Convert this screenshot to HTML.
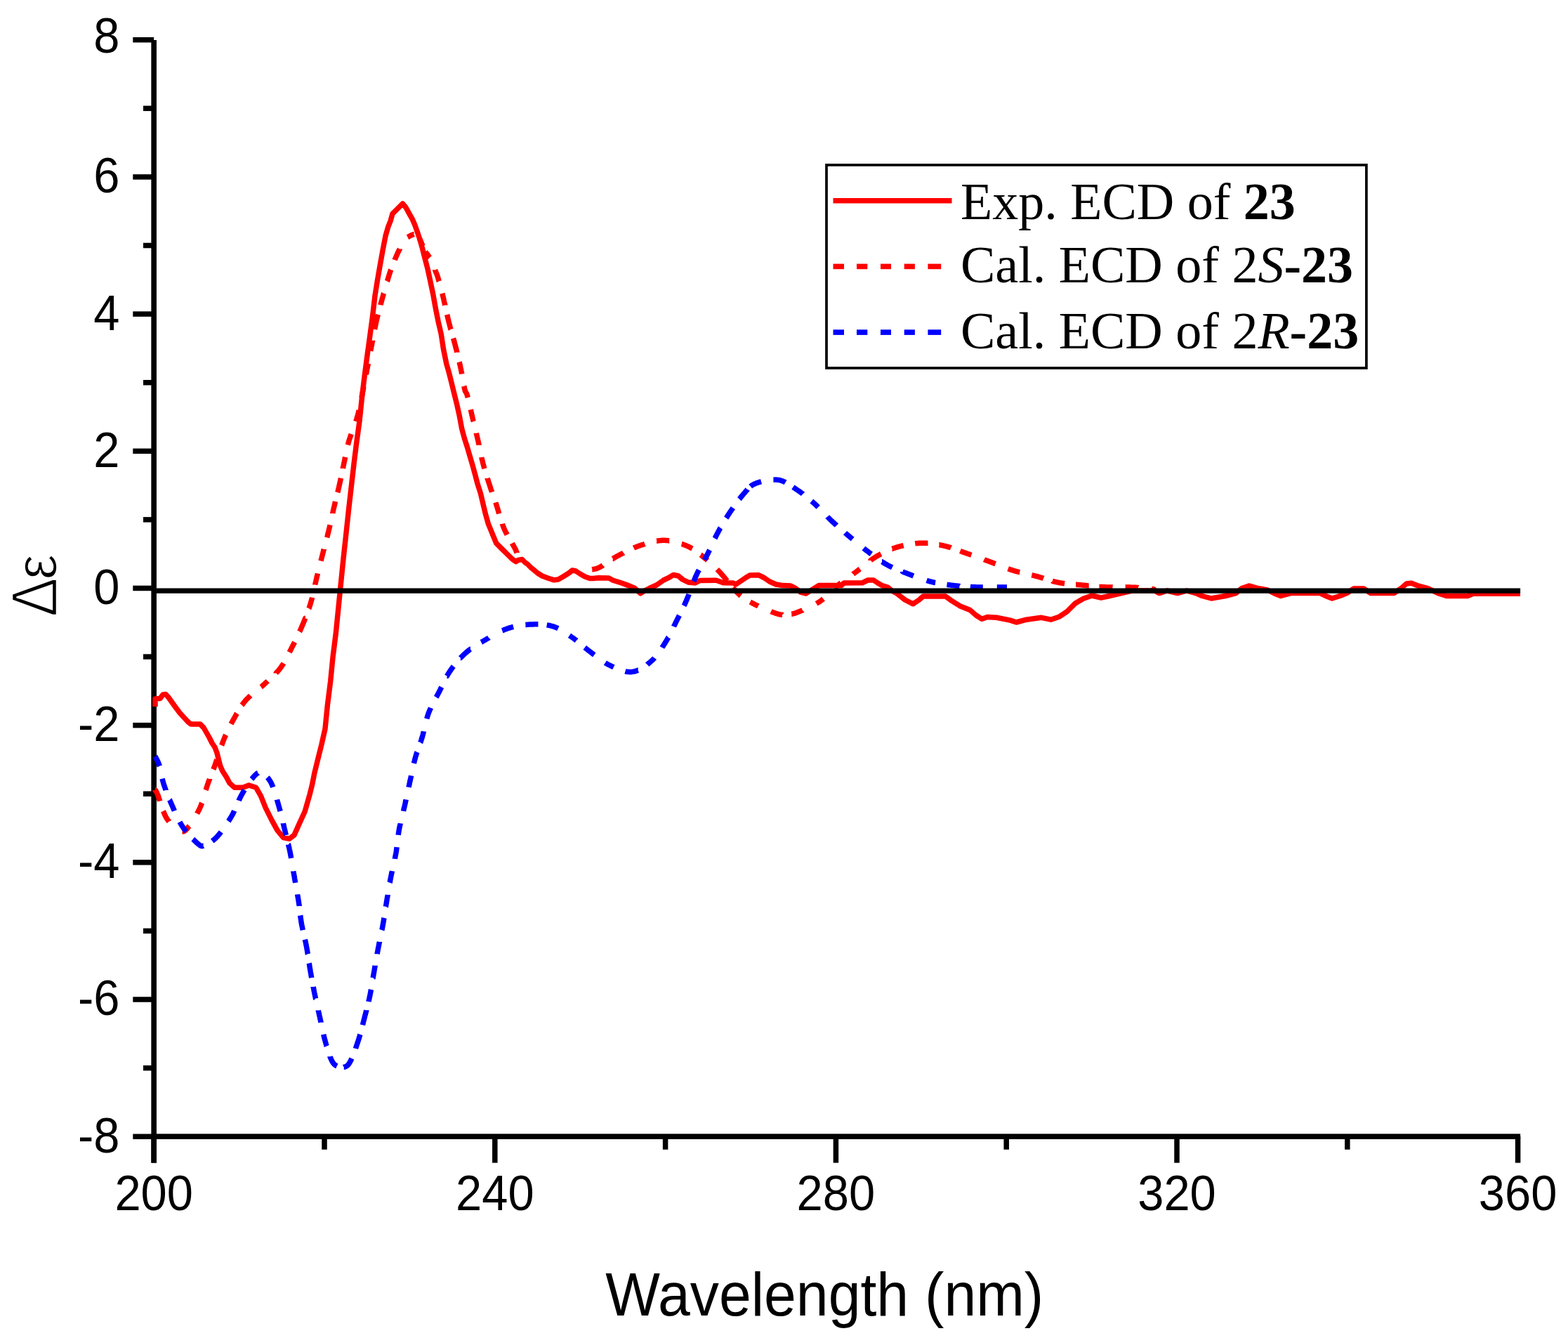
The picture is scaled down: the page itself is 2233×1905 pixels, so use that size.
<!DOCTYPE html>
<html><head><meta charset="utf-8"><title>ECD spectra</title>
<style>
html,body{margin:0;padding:0;background:#fff;}
body{width:2233px;height:1905px;overflow:hidden;}
svg{display:block;}
</style></head>
<body>
<svg width="2233" height="1905" viewBox="0 0 2233 1905">
<rect x="0" y="0" width="2233" height="1905" fill="#fff"/>
<rect x="215.35" y="57" width="7.6" height="1598.6" fill="#000"/>
<rect x="215.35" y="1614.30" width="1949.8" height="7.6" fill="#000"/>
<rect x="189.3" y="1614.45" width="29.85" height="7.5" fill="#000"/>
<rect x="204.0" y="1516.86" width="15.15" height="7.5" fill="#000"/>
<rect x="189.3" y="1419.27" width="29.85" height="7.5" fill="#000"/>
<rect x="204.0" y="1321.68" width="15.15" height="7.5" fill="#000"/>
<rect x="189.3" y="1224.09" width="29.85" height="7.5" fill="#000"/>
<rect x="204.0" y="1126.50" width="15.15" height="7.5" fill="#000"/>
<rect x="189.3" y="1028.91" width="29.85" height="7.5" fill="#000"/>
<rect x="204.0" y="931.32" width="15.15" height="7.5" fill="#000"/>
<rect x="189.3" y="833.73" width="29.85" height="7.5" fill="#000"/>
<rect x="204.0" y="736.13" width="15.15" height="7.5" fill="#000"/>
<rect x="189.3" y="638.54" width="29.85" height="7.5" fill="#000"/>
<rect x="204.0" y="540.95" width="15.15" height="7.5" fill="#000"/>
<rect x="189.3" y="443.36" width="29.85" height="7.5" fill="#000"/>
<rect x="204.0" y="345.77" width="15.15" height="7.5" fill="#000"/>
<rect x="189.3" y="248.18" width="29.85" height="7.5" fill="#000"/>
<rect x="204.0" y="150.59" width="15.15" height="7.5" fill="#000"/>
<rect x="189.3" y="53.00" width="29.85" height="7.5" fill="#000"/>
<rect x="215.45" y="1618.10" width="7.5" height="37.50" fill="#000"/>
<rect x="458.25" y="1618.10" width="7.5" height="18.60" fill="#000"/>
<rect x="701.05" y="1618.10" width="7.5" height="37.50" fill="#000"/>
<rect x="943.85" y="1618.10" width="7.5" height="18.60" fill="#000"/>
<rect x="1186.65" y="1618.10" width="7.5" height="37.50" fill="#000"/>
<rect x="1429.45" y="1618.10" width="7.5" height="18.60" fill="#000"/>
<rect x="1672.25" y="1618.10" width="7.5" height="37.50" fill="#000"/>
<rect x="1915.05" y="1618.10" width="7.5" height="18.60" fill="#000"/>
<rect x="2157.85" y="1618.10" width="7.5" height="37.50" fill="#000"/>
<text transform="translate(170.5,1640.6) scale(0.95,1)" font-family="Liberation Sans, Arial, sans-serif" font-size="70.4" text-anchor="end">-8</text>
<text transform="translate(170.5,1445.4) scale(0.95,1)" font-family="Liberation Sans, Arial, sans-serif" font-size="70.4" text-anchor="end">-6</text>
<text transform="translate(170.5,1250.2) scale(0.95,1)" font-family="Liberation Sans, Arial, sans-serif" font-size="70.4" text-anchor="end">-4</text>
<text transform="translate(170.5,1055.1) scale(0.95,1)" font-family="Liberation Sans, Arial, sans-serif" font-size="70.4" text-anchor="end">-2</text>
<text transform="translate(170.5,859.9) scale(0.95,1)" font-family="Liberation Sans, Arial, sans-serif" font-size="70.4" text-anchor="end">0</text>
<text transform="translate(170.5,664.7) scale(0.95,1)" font-family="Liberation Sans, Arial, sans-serif" font-size="70.4" text-anchor="end">2</text>
<text transform="translate(170.5,469.5) scale(0.95,1)" font-family="Liberation Sans, Arial, sans-serif" font-size="70.4" text-anchor="end">4</text>
<text transform="translate(170.5,274.3) scale(0.95,1)" font-family="Liberation Sans, Arial, sans-serif" font-size="70.4" text-anchor="end">6</text>
<text transform="translate(170.5,75.3) scale(0.95,1)" font-family="Liberation Sans, Arial, sans-serif" font-size="70.4" text-anchor="end">8</text>
<text transform="translate(219.2,1723.2) scale(0.95,1)" font-family="Liberation Sans, Arial, sans-serif" font-size="70.4" text-anchor="middle">200</text>
<text transform="translate(704.8,1723.2) scale(0.95,1)" font-family="Liberation Sans, Arial, sans-serif" font-size="70.4" text-anchor="middle">240</text>
<text transform="translate(1190.4,1723.2) scale(0.95,1)" font-family="Liberation Sans, Arial, sans-serif" font-size="70.4" text-anchor="middle">280</text>
<text transform="translate(1676.0,1723.2) scale(0.95,1)" font-family="Liberation Sans, Arial, sans-serif" font-size="70.4" text-anchor="middle">320</text>
<text transform="translate(2161.6,1723.2) scale(0.95,1)" font-family="Liberation Sans, Arial, sans-serif" font-size="70.4" text-anchor="middle">360</text>
<text transform="translate(1174.3,1872.9) scale(0.9446,1)" font-family="Liberation Sans, Arial, sans-serif" font-size="87.2" text-anchor="middle">Wavelength (nm)</text>
<text transform="translate(80.6,878.3) rotate(-90) scale(0.895,1)" font-family="Liberation Sans, Arial, sans-serif" font-size="93.5" stroke="#fff" stroke-width="2.4">Δ</text>
<text transform="translate(80.2,825.3) rotate(-90) scale(0.98,1)" font-family="Liberation Sans, Arial, sans-serif" font-size="83" stroke="#fff" stroke-width="1.6">ε</text>
<g fill="none" stroke-width="7.5" stroke-linejoin="round" stroke-linecap="butt">
<path d="M221.0,1006.0 L221.0,995.0 L228.0,994.5 L232.0,989.0 L236.0,988.5 L240.0,993.0 L245.0,1000.0 L250.0,1007.0 L256.0,1015.0 L262.0,1021.5 L268.0,1028.0 L272.0,1031.0 L285.0,1031.0 L290.0,1036.0 L294.0,1043.0 L298.0,1050.0 L302.0,1058.0 L306.0,1064.0 L309.0,1072.0 L311.5,1082.0 L313.5,1090.0 L317.0,1098.0 L322.2,1106.0 L327.0,1115.0 L334.0,1121.3 L346.0,1121.3 L354.4,1118.0 L364.6,1121.3 L371.4,1133.1 L378.2,1150.1 L386.7,1167.1 L395.1,1182.4 L403.6,1192.5 L412.1,1194.2 L418.9,1189.1 L425.7,1173.9 L434.2,1155.2 L441.0,1131.5 L444.4,1117.9 L447.8,1100.9 L452.8,1080.5 L457.9,1060.2 L463.0,1037.6 L466.4,1003.6 L470.7,969.7 L474.0,935.8 L478.3,901.8 L481.7,867.9 L485.1,833.9 L489.1,794.5 L493.0,758.9 L496.8,723.3 L500.7,689.3 L504.4,657.1 L507.8,630.0 L512.0,599.4 L515.5,565.5 L519.2,534.9 L523.0,506.0 L526.7,478.9 L530.6,450.0 L534.0,421.0 L537.6,398.5 L541.7,375.0 L545.3,355.1 L549.0,336.1 L552.6,323.4 L556.2,314.3 L558.9,304.4 L566.2,297.1 L573.4,290.0 L577.9,295.3 L582.9,304.4 L587.0,311.6 L590.6,319.8 L594.2,329.7 L597.8,340.6 L601.4,353.3 L605.1,367.7 L609.1,383.1 L612.8,400.3 L616.8,419.3 L620.5,439.9 L623.9,456.8 L628.2,475.5 L631.6,497.6 L635.8,518.0 L639.0,529.0 L643.0,544.9 L646.6,559.6 L650.3,574.3 L654.1,591.3 L657.7,610.5 L661.7,625.2 L665.4,636.5 L669.0,649.0 L673.0,662.5 L676.7,676.1 L680.3,689.7 L684.3,702.1 L691.4,731.8 L695.2,745.3 L699.0,754.7 L702.8,764.0 L706.7,773.3 L714.3,781.0 L722.0,788.6 L729.6,796.2 L734.7,799.6 L738.0,797.5 L743.6,796.5 L748.0,801.0 L751.6,803.5 L756.0,808.0 L759.3,810.7 L765.0,815.5 L772.0,820.0 L780.0,823.0 L789.0,825.8 L795.0,825.0 L802.0,821.0 L810.0,816.0 L815.0,812.0 L820.0,813.0 L826.0,817.0 L833.0,821.0 L840.0,823.5 L845.0,823.5 L852.0,822.7 L867.0,823.0 L873.0,826.2 L885.0,830.0 L895.0,833.6 L904.0,837.5 L912.0,844.8 L918.0,841.0 L925.0,837.5 L935.0,833.0 L945.0,826.0 L952.0,822.7 L959.0,818.5 L966.0,820.0 L972.0,825.0 L980.0,829.0 L990.0,830.0 L997.0,826.5 L1020.0,826.3 L1030.0,829.8 L1044.0,830.0 L1048.0,832.0 L1054.0,828.0 L1062.0,822.5 L1068.0,819.0 L1080.0,818.7 L1088.0,822.5 L1096.0,828.0 L1105.0,832.0 L1115.0,833.6 L1126.0,834.0 L1132.0,837.0 L1140.0,843.0 L1148.0,845.0 L1154.0,841.0 L1160.0,837.5 L1166.0,833.6 L1198.0,833.6 L1202.0,830.0 L1228.0,829.8 L1236.0,826.0 L1244.0,826.0 L1250.0,830.0 L1256.0,833.6 L1264.0,836.0 L1270.0,841.0 L1276.8,844.6 L1288.7,854.0 L1300.3,859.8 L1309.0,854.0 L1314.7,848.9 L1346.6,848.9 L1355.3,855.4 L1366.9,862.7 L1381.3,868.5 L1390.0,876.0 L1398.4,881.3 L1406.1,878.4 L1419.3,879.3 L1438.6,883.1 L1447.3,886.0 L1461.8,882.2 L1483.0,879.3 L1496.5,882.2 L1508.1,878.3 L1519.7,870.6 L1531.3,859.0 L1542.9,852.2 L1555.0,848.0 L1568.0,851.0 L1580.0,848.5 L1597.0,844.6 L1612.0,841.0 L1630.0,841.0 L1644.0,841.0 L1651.0,844.6 L1662.0,841.0 L1677.0,844.6 L1690.0,841.0 L1703.0,844.6 L1712.0,848.5 L1725.0,852.0 L1745.0,848.5 L1760.0,844.6 L1768.0,837.8 L1779.0,834.0 L1792.0,837.8 L1805.0,840.0 L1815.0,845.0 L1824.0,848.5 L1838.0,844.6 L1880.0,844.6 L1888.0,848.5 L1897.0,852.0 L1908.0,848.5 L1918.0,844.6 L1928.0,838.0 L1942.0,838.0 L1952.0,844.6 L1985.0,844.6 L1995.0,838.0 L2003.0,831.0 L2010.0,830.3 L2020.0,834.2 L2034.0,838.0 L2048.0,844.6 L2060.0,848.5 L2090.0,848.5 L2098.0,845.2 L2165.0,845.2" stroke="#ff0000"/>
<path d="M221.0,1125.0 L221.0,1125.1 L221.1,1125.1 L221.1,1125.2 L221.2,1125.3 L221.2,1125.3 L221.3,1125.4 L221.3,1125.4 L221.4,1125.5 L221.4,1125.6 L221.5,1125.6 L221.5,1125.7 L221.6,1125.7 L221.6,1125.8 L221.7,1125.8 L221.8,1125.9 L221.8,1126.0 L221.9,1126.1 L222.0,1126.1 L222.0,1126.2 L222.1,1126.3 L222.2,1126.5 L222.3,1126.6 L222.4,1126.7 L222.5,1126.9 L222.5,1127.0 L222.6,1127.2 L222.8,1127.4 L222.9,1127.6 L223.0,1127.8 L223.1,1128.0 L223.2,1128.3 L223.3,1128.6 L223.5,1128.9 L223.6,1129.2 L223.8,1129.5 L223.9,1129.8 L224.1,1130.2 L224.2,1130.6 L224.4,1131.1 L224.6,1131.5 L224.8,1132.0 L225.0,1132.5 L225.2,1133.1 L225.4,1133.6 L225.6,1134.3 L225.8,1134.9 L226.1,1135.6 L226.3,1136.3 L226.5,1137.0 L226.8,1137.8 L227.1,1138.6 L227.3,1139.4 L227.6,1140.2 L227.7,1140.6 M232.5,1154.7 L232.6,1154.9 L232.9,1155.7 L233.2,1156.5 L233.5,1157.3 L233.8,1158.0 L234.1,1158.8 L234.4,1159.5 L234.7,1160.1 L235.0,1160.8 L235.3,1161.4 L235.6,1162.0 L235.9,1162.6 L236.2,1163.1 L236.5,1163.6 L236.8,1164.2 L237.1,1164.7 L237.4,1165.2 L237.7,1165.6 L238.0,1166.1 L238.3,1166.6 L238.6,1167.0 L239.0,1167.5 L239.3,1167.9 L239.6,1168.3 L239.9,1168.7 L240.2,1169.1 L240.6,1169.5 L240.7,1169.7 M259.5,1184.0 L259.7,1184.0 L259.9,1184.0 L260.1,1184.0 L260.3,1184.0 L260.5,1184.0 L260.8,1183.9 L261.0,1183.9 L261.2,1183.8 L261.4,1183.8 L261.6,1183.7 L261.8,1183.7 L262.0,1183.6 L262.2,1183.5 L262.4,1183.4 L262.6,1183.3 L262.8,1183.2 L263.0,1183.1 L263.2,1182.9 L263.4,1182.8 L263.7,1182.6 L263.9,1182.4 L264.1,1182.2 L264.3,1182.0 L264.6,1181.8 L264.8,1181.6 L265.0,1181.3 L265.3,1181.1 L265.6,1180.8 L265.8,1180.5 L266.1,1180.2 L266.4,1179.9 L266.7,1179.5 L267.0,1179.2 L267.3,1178.8 L267.6,1178.4 L267.9,1178.0 L268.2,1177.6 L268.6,1177.1 L268.9,1176.6 L269.3,1176.1 L269.5,1175.9 M280.6,1158.4 L280.8,1158.0 L281.2,1157.2 L281.7,1156.4 L282.1,1155.6 L282.5,1154.8 L282.9,1154.0 L283.3,1153.2 L283.7,1152.4 L284.1,1151.7 L284.4,1150.9 L284.8,1150.1 L285.1,1149.3 L285.5,1148.5 L285.8,1147.7 L286.2,1146.9 L286.5,1146.1 L286.8,1145.2 L287.1,1144.4 L287.4,1143.5 L287.6,1143.1 M293.1,1124.9 L293.4,1124.1 L293.6,1123.3 L293.9,1122.5 L294.1,1121.6 L294.4,1120.8 L294.6,1120.0 L294.9,1119.2 L295.1,1118.4 L295.4,1117.7 L295.6,1116.9 L295.9,1116.2 L296.2,1115.5 L296.4,1114.8 L296.6,1114.1 L296.9,1113.5 L297.1,1112.8 L297.4,1112.2 L297.6,1111.6 L297.8,1111.0 L298.0,1110.4 L298.3,1109.8 L298.5,1109.3 L298.5,1109.1 M303.9,1095.5 L304.1,1095.0 L304.4,1094.3 L304.6,1093.5 L304.9,1092.8 L305.2,1092.0 L305.5,1091.2 L305.8,1090.4 L306.1,1089.5 L306.4,1088.6 L306.7,1087.8 L307.0,1086.8 L307.3,1085.9 L307.6,1085.0 L308.0,1084.0 L308.3,1083.0 L308.6,1082.0 L308.7,1081.8 M315.6,1061.2 L316.0,1060.3 L316.3,1059.3 L316.7,1058.3 L317.0,1057.3 L317.4,1056.4 L317.7,1055.5 L318.1,1054.6 L318.4,1053.7 L318.8,1052.8 L319.1,1051.9 L319.5,1051.1 L319.8,1050.3 L320.2,1049.4 L320.5,1048.6 L320.9,1047.8 L321.2,1047.0 L321.6,1046.2 M329.1,1030.7 L329.4,1030.1 L329.8,1029.4 L330.1,1028.7 L330.5,1028.0 L330.9,1027.3 L331.3,1026.6 L331.7,1025.9 L332.0,1025.2 L332.4,1024.5 L332.8,1023.8 L333.2,1023.1 L333.6,1022.4 L334.0,1021.7 L334.4,1021.0 L334.8,1020.3 L335.1,1019.6 L335.5,1018.9 L335.9,1018.3 L336.3,1017.6 L336.7,1016.9 L337.0,1016.2 L337.4,1015.6 M344.5,1004.0 L344.8,1003.7 L345.2,1003.0 L345.7,1002.4 L346.2,1001.8 L346.6,1001.2 L347.1,1000.5 L347.6,999.9 L348.1,999.3 L348.6,998.7 L349.1,998.0 L349.7,997.4 L350.2,996.8 L350.7,996.2 L351.3,995.6 L351.9,995.0 L352.5,994.4 L353.1,993.8 L353.7,993.2 L354.3,992.6 L354.9,992.0 L355.6,991.4 L356.2,990.9 L356.7,990.4 M371.7,978.2 L372.0,978.0 L372.7,977.4 L373.3,976.8 L374.0,976.3 L374.6,975.7 L375.3,975.1 L375.9,974.6 L376.5,974.0 L377.1,973.4 L377.7,972.9 L378.3,972.3 L379.0,971.7 L379.6,971.2 L380.2,970.6 L380.8,970.1 L381.2,969.7 M393.1,958.4 L393.1,958.3 L393.7,957.7 L394.2,957.2 L394.8,956.6 L395.3,956.0 L395.8,955.4 L396.4,954.8 L396.9,954.2 L397.4,953.5 L397.9,952.9 L398.4,952.3 L398.9,951.6 L399.4,951.0 L399.9,950.3 L400.4,949.7 L400.8,949.0 L401.3,948.4 L401.7,947.7 L402.2,947.0 L402.6,946.3 L403.1,945.7 L403.5,945.0 L403.9,944.3 L403.9,944.3 M412.2,928.7 L412.4,928.3 L412.8,927.5 L413.2,926.8 L413.6,926.0 L414.0,925.2 L414.3,924.5 L414.7,923.7 L415.1,923.0 L415.5,922.2 L415.9,921.4 L416.3,920.7 L416.7,919.9 L417.1,919.1 L417.5,918.3 L417.9,917.5 L418.3,916.8 L418.7,916.0 L419.1,915.2 L419.5,914.4 L419.6,914.2 M426.6,899.4 L426.9,898.9 L427.2,898.0 L427.6,897.2 L428.0,896.4 L428.3,895.6 L428.7,894.8 L429.1,894.0 L429.4,893.1 L429.8,892.3 L430.1,891.5 L430.5,890.7 L430.8,889.9 L431.1,889.1 L431.5,888.3 L431.8,887.5 L432.1,886.7 L432.5,885.9 L432.8,885.1 L433.1,884.3 L433.5,883.5 L433.8,882.7 L434.1,881.9 L434.4,881.1 L434.7,880.3 L434.8,880.3 M439.9,866.3 L440.1,866.0 L440.3,865.2 L440.6,864.4 L440.9,863.5 L441.1,862.7 L441.4,861.9 L441.7,861.1 L441.9,860.2 L442.2,859.4 L442.4,858.5 L442.7,857.7 L443.0,856.8 L443.2,856.0 L443.4,855.1 L443.7,854.3 L443.9,853.4 L444.2,852.5 L444.4,851.6 L444.6,850.7 L444.6,850.7 M448.7,832.6 L448.7,832.5 L448.9,831.6 L449.1,830.7 L449.3,829.8 L449.5,828.9 L449.7,828.1 L449.9,827.2 L450.1,826.3 L450.3,825.4 L450.5,824.6 L450.7,823.7 L450.9,822.8 L451.1,822.0 L451.3,821.2 L451.5,820.3 L451.7,819.5 L451.9,818.7 L452.1,817.9 L452.3,817.0 L452.4,816.5 M457.0,798.7 L457.1,798.3 L457.3,797.5 L457.5,796.7 L457.7,795.9 L457.9,795.1 L458.1,794.3 L458.3,793.5 L458.5,792.7 L458.7,791.9 L458.9,791.1 L459.1,790.3 L459.3,789.5 L459.5,788.7 L459.7,787.8 L460.0,787.0 L460.2,786.2 L460.4,785.3 L460.6,784.5 L460.8,783.7 L461.0,782.8 L461.3,782.0 L461.3,781.9 M465.7,765.3 L465.8,764.9 L466.0,764.1 L466.2,763.2 L466.4,762.4 L466.6,761.5 L466.8,760.7 L467.1,759.8 L467.3,759.0 L467.5,758.1 L467.7,757.2 L467.9,756.4 L468.1,755.6 L468.3,754.7 L468.5,753.8 L468.7,753.0 L468.9,752.1 L469.1,751.3 L469.3,750.4 L469.5,749.6 L469.7,748.7 L469.9,747.8 L470.0,747.4 M473.7,730.9 L473.7,730.7 L473.9,729.9 L474.1,729.0 L474.3,728.2 L474.5,727.4 L474.6,726.5 L474.8,725.7 L475.0,724.9 L475.2,724.0 L475.4,723.2 L475.6,722.4 L475.8,721.6 L476.0,720.8 L476.2,720.0 L476.4,719.2 L476.6,718.4 L476.8,717.6 L476.9,716.8 L477.1,716.0 L477.3,715.2 L477.5,714.4 L477.6,713.9 M480.8,701.1 L481.0,700.4 L481.2,699.6 L481.4,698.8 L481.5,698.1 L481.7,697.3 L481.9,696.5 L482.1,695.7 L482.3,694.9 L482.5,694.2 L482.7,693.4 L482.8,692.6 L483.0,691.8 L483.2,691.0 L483.4,690.2 L483.6,689.4 L483.7,688.6 L483.9,687.8 L484.1,687.0 L484.3,686.2 L484.4,685.4 L484.6,684.6 L484.8,683.8 L485.0,683.0 L485.1,682.2 L485.3,681.3 L485.4,680.8 M488.3,666.9 L488.3,666.8 L488.5,666.0 L488.7,665.2 L488.8,664.3 L489.0,663.6 L489.2,662.8 L489.3,662.0 L489.5,661.2 L489.7,660.4 L489.8,659.6 L490.0,658.8 L490.2,658.0 L490.3,657.2 L490.5,656.5 L490.7,655.7 L490.8,654.9 L491.0,654.2 L491.1,653.4 L491.3,652.7 L491.4,651.9 L491.6,651.2 L491.7,650.7 M495.4,633.5 L495.5,633.1 L495.7,632.3 L495.9,631.5 L496.1,630.7 L496.3,629.9 L496.6,629.0 L496.8,628.2 L497.0,627.4 L497.3,626.5 L497.6,625.7 L497.8,624.8 L498.1,624.0 L498.4,623.1 L498.7,622.3 L499.0,621.4 L499.3,620.5 L499.6,619.7 L499.9,618.8 L500.2,618.0 M506.8,600.1 L507.0,599.4 L507.3,598.4 L507.7,597.4 L508.0,596.4 L508.3,595.3 L508.6,594.2 L508.9,593.2 L509.2,592.1 L509.5,591.0 L509.8,589.9 L510.1,588.8 L510.4,587.6 L510.6,586.5 L510.9,585.3 L511.2,584.1 L511.2,584.0 M514.9,566.4 L514.9,566.4 L515.2,565.0 L515.4,563.7 L515.7,562.4 L516.0,561.1 L516.2,559.7 L516.5,558.4 L516.7,557.1 L517.0,555.7 L517.2,554.4 L517.5,553.1 L517.7,551.7 L518.0,550.4 L518.0,550.4 M521.3,533.3 L521.5,532.2 L521.8,530.9 L522.1,529.5 L522.3,528.2 L522.6,526.8 L522.8,525.5 L523.1,524.2 L523.3,522.8 L523.6,521.5 L523.9,520.1 L524.1,518.8 L524.3,517.7 M527.7,499.8 L527.8,499.3 L528.0,498.1 L528.3,496.9 L528.5,495.7 L528.7,494.6 L528.9,493.4 L529.2,492.3 L529.4,491.2 L529.6,490.1 L529.8,489.0 L530.0,487.9 L530.2,486.9 L530.4,485.9 L530.6,484.9 L530.6,484.7 M533.6,469.0 L533.7,468.5 L533.8,467.7 L534.0,466.9 L534.1,466.2 L534.3,465.4 L534.5,464.6 L534.6,463.8 L534.8,463.1 L534.9,462.3 L535.1,461.5 L535.3,460.7 L535.4,459.9 L535.6,459.1 L535.8,458.3 L535.9,457.5 L536.1,456.7 L536.3,455.9 L536.5,455.1 L536.7,454.3 L536.9,453.4 L537.1,452.6 L537.3,451.8 L537.5,451.0 L537.7,450.1 L537.9,449.3 L538.1,448.5 L538.3,447.8 M541.9,434.2 L542.0,433.7 L542.2,432.9 L542.5,432.1 L542.7,431.3 L542.9,430.5 L543.1,429.7 L543.3,428.9 L543.5,428.2 L543.8,427.4 L544.0,426.6 L544.2,425.9 L544.4,425.1 L544.6,424.4 L544.8,423.6 L545.0,422.9 L545.2,422.2 L545.4,421.4 L545.6,420.7 L545.8,420.0 L546.0,419.3 L546.2,418.6 L546.4,417.8 L546.5,417.6 M551.4,400.5 L551.6,400.1 L551.8,399.5 L551.9,398.9 L552.1,398.3 L552.3,397.8 L552.4,397.2 L552.6,396.7 L552.8,396.2 L552.9,395.6 L553.1,395.1 L553.2,394.6 L553.4,394.1 L553.5,393.7 L553.7,393.2 L553.8,392.7 L553.9,392.3 L554.1,391.8 L554.2,391.4 L554.4,390.9 L554.5,390.5 L554.6,390.1 L554.7,389.7 L554.9,389.3 L555.0,388.8 L555.1,388.4 L555.3,388.0 L555.4,387.6 L555.5,387.3 L555.6,386.9 L555.8,386.5 L555.9,386.1 L556.0,385.7 L556.1,385.3 L556.3,385.0 L556.4,384.6 L556.5,384.2 L556.6,384.0 M562.1,370.1 L562.2,369.8 L562.3,369.4 L562.5,369.1 L562.7,368.7 L562.8,368.4 L563.0,368.0 L563.1,367.7 L563.3,367.3 L563.4,367.0 L563.6,366.6 L563.7,366.3 L563.9,366.0 L564.0,365.6 L564.2,365.3 L564.3,365.0 L564.4,364.7 L564.6,364.4 L564.7,364.1 L564.8,363.8 L564.9,363.5 L565.1,363.3 L565.2,363.0 L565.3,362.7 L565.4,362.5 L565.5,362.2 L565.6,362.0 L565.7,361.8 L565.8,361.5 L565.9,361.3 L566.0,361.1 L566.1,360.8 L566.2,360.6 L566.3,360.4 L566.4,360.2 L566.5,359.9 L566.6,359.7 L566.7,359.5 L566.9,359.3 L567.0,359.0 L567.1,358.8 L567.2,358.6 L567.3,358.4 L567.4,358.1 L567.5,357.9 L567.6,357.7 L567.8,357.4 L567.9,357.2 L568.0,356.9 L568.1,356.7 L568.3,356.4 L568.4,356.1 L568.5,355.9 L568.7,355.6 L568.8,355.3 L569.0,355.0 L569.2,354.7 L569.2,354.5 M580.6,337.8 L580.8,337.7 L581.1,337.5 L581.4,337.3 L581.7,337.1 L582.0,336.9 L582.3,336.7 L582.6,336.6 L582.9,336.4 L583.2,336.2 L583.5,336.0 L583.7,335.9 L584.0,335.7 L584.3,335.6 L584.6,335.4 L584.9,335.3 L585.2,335.2 L585.5,335.0 L585.7,334.9 L586.0,334.8 L586.3,334.7 L586.5,334.5 L586.8,334.4 L587.0,334.3 L587.3,334.3 L587.5,334.2 L587.8,334.1 L588.0,334.0 L588.2,333.9 L588.4,333.9 L588.7,333.8 L588.9,333.7 L589.1,333.7 L589.3,333.6 L589.5,333.6 L589.5,333.6 M597.8,340.1 L597.8,340.2 L597.9,340.4 L598.0,340.7 L598.1,340.9 L598.2,341.2 L598.3,341.4 L598.4,341.7 L598.5,341.9 L598.6,342.2 L598.8,342.5 L598.9,342.7 L599.0,343.0 L599.1,343.3 L599.3,343.6 L599.4,343.9 L599.5,344.2 L599.6,344.5 L599.8,344.8 L599.9,345.1 L600.1,345.4 L600.2,345.8 L600.3,346.1 L600.5,346.5 L600.6,346.8 L600.8,347.2 L600.9,347.5 L601.0,347.9 L601.2,348.3 L601.3,348.6 L601.5,349.0 L601.6,349.4 L601.8,349.8 L601.9,350.1 L602.0,350.2 M605.8,358.2 L605.8,358.3 L606.0,358.6 L606.2,358.9 L606.4,359.1 L606.6,359.4 L606.8,359.7 L607.0,360.0 L607.2,360.3 L607.4,360.6 L607.6,360.8 L607.8,361.1 L608.0,361.4 L608.2,361.7 L608.4,361.9 L608.7,362.2 L608.9,362.5 L609.1,362.8 L609.3,363.0 L609.5,363.3 L609.7,363.6 L609.9,363.9 L610.1,364.2 L610.3,364.5 L610.6,364.7 L610.8,365.0 L611.0,365.3 L611.2,365.6 L611.4,366.0 L611.6,366.3 L611.8,366.6 L612.0,366.8 M619.6,384.3 L619.6,384.4 L619.8,384.8 L619.9,385.2 L620.1,385.6 L620.2,386.0 L620.4,386.3 L620.5,386.7 L620.6,387.0 L620.8,387.4 L620.9,387.7 L621.0,387.9 L621.1,388.2 L621.2,388.5 L621.3,388.7 L621.4,388.9 L621.5,389.1 L621.6,389.3 L621.7,389.5 L621.7,389.7 L621.8,389.9 L621.9,390.1 L622.0,390.3 L622.0,390.4 L622.1,390.6 L622.2,390.8 L622.2,390.9 L622.3,391.1 L622.4,391.3 L622.4,391.5 L622.5,391.6 L622.6,391.8 L622.6,392.0 L622.7,392.2 L622.8,392.5 L622.9,392.7 L623.0,392.9 L623.0,393.2 L623.1,393.4 L623.2,393.7 L623.3,394.0 L623.4,394.3 L623.5,394.7 L623.6,395.0 L623.7,395.4 L623.8,395.8 L624.0,396.2 L624.1,396.7 L624.2,397.2 L624.4,397.7 L624.5,398.2 L624.7,398.7 L624.8,399.2 L625.0,399.8 L625.1,400.3 L625.2,400.5 M629.8,417.7 L630.0,418.4 L630.1,419.2 L630.3,419.9 L630.5,420.7 L630.7,421.5 L630.9,422.3 L631.1,423.0 L631.3,423.8 L631.5,424.6 L631.7,425.4 L631.9,426.2 L632.1,427.0 L632.2,427.8 L632.4,428.6 L632.6,429.4 L632.8,430.3 L633.0,431.1 L633.2,432.0 L633.4,432.8 L633.6,433.7 L633.8,434.5 L633.8,434.6 M636.7,447.9 L636.9,448.8 L637.1,449.7 L637.3,450.6 L637.5,451.5 L637.7,452.4 L637.9,453.3 L638.1,454.1 L638.4,455.0 L638.6,455.9 L638.8,456.8 L639.0,457.6 L639.2,458.5 L639.4,459.4 L639.6,460.2 L639.9,461.1 L640.1,461.9 L640.3,462.8 L640.5,463.7 L640.8,464.5 L641.0,465.4 L641.2,466.2 L641.5,467.1 L641.7,467.9 L641.9,468.8 L642.0,469.0 M645.5,481.6 L645.5,481.6 L645.8,482.5 L646.0,483.3 L646.3,484.1 L646.5,485.0 L646.7,485.8 L647.0,486.7 L647.2,487.5 L647.4,488.3 L647.6,489.2 L647.9,490.0 L648.1,490.8 L648.3,491.7 L648.5,492.5 L648.7,493.3 L648.9,494.2 L649.1,495.0 L649.3,495.8 L649.6,496.6 L649.8,497.5 L650.0,498.3 L650.2,499.1 L650.4,499.9 L650.6,500.7 L650.8,501.6 L650.8,501.8 M654.1,515.4 L654.3,516.1 L654.5,516.9 L654.6,517.7 L654.8,518.5 L655.0,519.3 L655.2,520.0 L655.4,520.8 L655.5,521.6 L655.7,522.4 L655.9,523.2 L656.0,523.9 L656.2,524.7 L656.4,525.5 L656.5,526.3 L656.7,527.0 L656.8,527.8 L657.0,528.6 L657.2,529.4 L657.3,530.2 L657.5,531.1 L657.6,531.9 L657.7,532.5 M660.8,549.7 L660.9,550.0 L661.0,550.6 L661.1,551.2 L661.2,551.8 L661.4,552.4 L661.5,552.9 L661.6,553.4 L661.7,553.9 L661.8,554.4 L661.9,554.8 L662.0,555.2 L662.1,555.5 L662.2,555.9 L662.3,556.2 L662.4,556.4 L662.5,556.7 L662.6,556.9 L662.7,557.1 L662.8,557.3 L662.8,557.5 L662.9,557.6 L663.0,557.8 L663.1,557.9 L663.2,558.0 L663.2,558.1 L663.3,558.2 L663.4,558.3 L663.5,558.4 L663.5,558.5 L663.6,558.6 L663.7,558.8 L663.8,558.9 L663.8,559.0 L663.9,559.1 L664.0,559.3 L664.1,559.4 L664.2,559.6 L664.3,559.8 L664.4,560.0 L664.5,560.2 L664.6,560.5 L664.7,560.7 L664.8,561.0 L664.9,561.4 L665.0,561.7 L665.1,562.1 L665.3,562.5 L665.4,563.0 L665.5,563.5 L665.7,564.0 L665.8,564.5 L666.0,565.1 L666.1,565.7 L666.2,566.1 M670.2,583.1 L670.3,583.5 L670.5,584.3 L670.7,585.2 L670.9,586.0 L671.1,586.8 L671.3,587.6 L671.5,588.4 L671.6,589.2 L671.8,590.0 L672.0,590.8 L672.2,591.6 L672.4,592.4 L672.6,593.2 L672.8,594.0 L673.0,594.7 L673.2,595.5 L673.3,596.3 L673.5,597.1 L673.7,597.9 L673.9,598.7 L674.1,599.5 L674.3,600.1 M678.3,616.7 L678.3,616.8 L678.5,617.7 L678.7,618.5 L678.9,619.4 L679.1,620.2 L679.3,621.0 L679.5,621.9 L679.7,622.7 L679.9,623.5 L680.1,624.4 L680.3,625.2 L680.5,626.0 L680.7,626.9 L680.9,627.7 L681.1,628.6 L681.2,629.4 L681.4,630.2 L681.6,631.1 L681.8,631.9 L682.0,632.8 L682.1,633.6 L682.1,633.7 M685.8,651.0 L685.9,651.6 L686.1,652.4 L686.3,653.3 L686.5,654.1 L686.7,655.0 L686.9,655.8 L687.1,656.6 L687.3,657.5 L687.5,658.3 L687.7,659.1 L687.9,659.9 L688.1,660.7 L688.4,661.6 L688.6,662.4 L688.8,663.2 L689.0,664.0 L689.3,664.9 L689.5,665.7 L689.7,666.5 L689.9,667.2 M694.1,680.9 L694.1,681.0 L694.4,681.8 L694.6,682.6 L694.9,683.3 L695.1,684.1 L695.4,684.9 L695.6,685.6 L695.9,686.4 L696.1,687.1 L696.4,687.9 L696.6,688.6 L696.8,689.3 L697.1,690.1 L697.3,690.8 L697.5,691.5 L697.8,692.2 L698.0,692.9 L698.2,693.6 L698.4,694.3 L698.7,694.9 L698.9,695.6 L699.1,696.2 L699.3,696.9 L699.5,697.5 L699.8,698.1 L700.0,698.7 L700.2,699.3 L700.4,700.0 L700.6,700.6 L700.6,700.6 M705.8,715.4 L706.0,716.0 L706.3,716.8 L706.6,717.6 L706.8,718.4 L707.1,719.2 L707.3,720.0 L707.6,720.8 L707.8,721.7 L708.1,722.5 L708.4,723.4 L708.6,724.3 L708.9,725.1 L709.2,726.0 L709.4,726.9 L709.7,727.8 L710.0,728.8 L710.2,729.7 L710.5,730.6 L710.7,731.4 M715.3,745.7 L715.4,746.2 L715.8,747.1 L716.1,748.0 L716.4,748.8 L716.7,749.7 L717.0,750.5 L717.4,751.3 L717.7,752.1 L718.0,752.9 L718.4,753.7 L718.7,754.5 L719.1,755.3 L719.5,756.1 L719.9,756.9 L720.3,757.7 L720.7,758.5 L721.1,759.2 L721.5,760.0 L721.9,760.8 L722.2,761.4 M729.2,773.5 L729.4,773.9 L729.8,774.5 L730.2,775.1 L730.5,775.8 L730.9,776.4 L731.2,776.9 L731.6,777.5 L731.9,778.1 L732.2,778.6 L732.5,779.1 L732.7,779.6 L733.0,780.1 L733.2,780.6 L733.5,781.0 L733.7,781.4 L733.9,781.8 L734.1,782.2 L734.3,782.6 L734.4,782.9 L734.6,783.3 L734.7,783.6 L734.9,783.9 L735.0,784.2 L735.1,784.5 L735.2,784.7 L735.3,785.0 L735.4,785.2 L735.5,785.4 L735.6,785.7 L735.7,785.9 L735.8,786.1 L735.8,786.3 L735.9,786.5 L736.0,786.7 L736.1,786.9 L736.1,787.0 L736.1,787.1 M843.3,810.8 L843.4,810.8 L843.8,810.7 L844.2,810.6 L844.6,810.6 L845.0,810.5 L845.4,810.5 L845.8,810.4 L846.2,810.3 L846.6,810.2 L847.0,810.1 L847.4,810.1 L847.8,810.0 L848.2,809.9 L848.6,809.8 L849.0,809.7 L849.4,809.5 L849.8,809.4 L850.2,809.3 L850.6,809.1 L851.0,809.0 L851.4,808.8 L851.8,808.7 L852.2,808.5 L852.5,808.3 L852.9,808.2 L853.3,808.0 L853.7,807.8 L854.1,807.6 L854.4,807.4 L854.8,807.2 L855.2,807.0 L855.6,806.8 L855.9,806.5 L856.3,806.3 L856.7,806.1 L857.1,805.9 L857.4,805.6 L857.8,805.4 L858.2,805.1 L858.5,804.9 L858.6,804.8 M872.7,795.6 L872.8,795.6 L873.1,795.4 L873.5,795.1 L873.8,794.9 L874.2,794.7 L874.5,794.4 L874.9,794.2 L875.3,794.0 L875.7,793.7 L876.1,793.5 L876.5,793.2 L876.9,793.0 L877.4,792.7 L877.8,792.5 L878.3,792.2 L878.7,792.0 L879.2,791.7 L879.7,791.4 L880.2,791.2 L880.8,790.9 L881.3,790.6 L881.9,790.3 L882.4,790.0 L883.0,789.7 L883.6,789.4 L884.2,789.1 L884.9,788.7 L885.5,788.4 L886.1,788.1 L886.8,787.7 L887.5,787.4 L887.9,787.1 M902.5,780.1 L903.1,779.8 L903.9,779.5 L904.7,779.2 L905.5,778.9 L906.3,778.5 L907.1,778.2 L907.9,777.9 L908.7,777.7 L909.5,777.4 L910.3,777.1 L911.1,776.8 L911.9,776.6 L912.7,776.3 L913.5,776.0 L914.4,775.7 L915.2,775.5 L916.1,775.2 L916.9,774.9 L917.8,774.7 L918.3,774.5 M935.1,770.2 L935.4,770.2 L936.3,770.0 L937.2,769.9 L938.1,769.8 L939.0,769.7 L939.8,769.6 L940.7,769.5 L941.6,769.4 L942.4,769.4 L943.3,769.3 L944.2,769.3 L945.0,769.3 L945.8,769.3 L946.7,769.3 L947.5,769.4 L948.4,769.4 L949.3,769.5 L950.1,769.6 L951.0,769.6 L951.8,769.7 L952.7,769.9 L953.2,769.9 M970.7,774.4 L971.1,774.5 L971.9,774.8 L972.7,775.1 L973.4,775.4 L974.2,775.7 L974.9,775.9 L975.7,776.2 L976.4,776.5 L977.1,776.8 L977.8,777.1 L978.5,777.4 L979.2,777.7 L979.8,778.0 L980.5,778.3 L981.2,778.6 L981.8,778.9 L982.4,779.3 L983.1,779.6 L983.7,779.9 L984.3,780.3 L984.9,780.6 L985.5,781.0 L985.9,781.2 M997.8,790.0 L998.2,790.2 L998.7,790.7 L999.3,791.1 L999.9,791.6 L1000.4,792.0 L1001.0,792.5 L1001.6,793.0 L1002.2,793.4 L1002.7,793.9 L1003.3,794.3 L1003.9,794.8 L1004.4,795.3 L1005.0,795.7 L1005.6,796.2 L1006.2,796.7 L1006.7,797.2 L1007.3,797.6 L1007.6,797.9 M1021.2,810.7 L1021.7,811.2 L1022.3,811.8 L1023.0,812.4 L1023.6,813.1 L1024.2,813.7 L1024.8,814.4 L1025.5,815.0 L1026.1,815.7 L1026.7,816.5 L1027.4,817.2 L1028.0,818.0 L1028.7,818.7 L1029.4,819.5 L1030.0,820.3 L1030.7,821.1 L1031.4,821.9 L1032.1,822.7 L1032.7,823.6 L1033.4,824.4 L1034.1,825.3 L1034.8,826.1 L1035.5,827.0 L1035.7,827.2 M1043.6,836.8 L1043.7,836.9 L1044.4,837.7 L1045.1,838.5 L1045.7,839.3 L1046.4,840.0 L1047.1,840.7 L1047.7,841.4 L1048.4,842.1 L1049.0,842.8 L1049.6,843.4 L1050.3,844.0 L1050.9,844.6 L1051.5,845.2 L1052.1,845.7 L1052.7,846.3 L1053.3,846.8 L1053.9,847.3 L1054.5,847.8 L1055.0,848.2 M1068.3,857.1 L1068.9,857.4 L1069.5,857.7 L1070.1,858.0 L1070.7,858.4 L1071.3,858.7 L1072.0,859.0 L1072.7,859.4 L1073.3,859.7 L1074.0,860.1 L1074.7,860.5 L1075.4,860.8 L1076.2,861.2 L1076.9,861.6 L1077.7,862.0 L1078.5,862.3 L1079.3,862.7 L1079.8,863.0 M1098.0,870.7 L1098.2,870.8 L1099.0,871.1 L1099.8,871.4 L1100.5,871.7 L1101.3,872.0 L1102.0,872.2 L1102.7,872.5 L1103.4,872.7 L1104.1,873.0 L1104.7,873.2 L1105.3,873.4 L1105.9,873.6 L1106.5,873.8 L1107.0,873.9 L1107.5,874.1 L1108.0,874.3 L1108.5,874.4 L1109.0,874.5 L1109.4,874.6 L1109.8,874.7 L1110.2,874.8 L1110.6,874.9 L1111.0,875.0 L1111.4,875.1 L1111.7,875.1 L1112.1,875.2 L1112.4,875.2 L1112.7,875.3 L1113.1,875.3 L1113.4,875.3 L1113.7,875.3 L1114.0,875.3 L1114.1,875.4 M1127.3,874.3 L1127.5,874.3 L1127.9,874.2 L1128.2,874.1 L1128.6,874.0 L1129.0,873.9 L1129.4,873.8 L1129.8,873.7 L1130.2,873.6 L1130.7,873.5 L1131.1,873.4 L1131.6,873.2 L1132.1,873.1 L1132.5,872.9 L1133.0,872.7 L1133.6,872.5 L1134.1,872.4 L1134.6,872.1 L1135.2,871.9 L1135.8,871.7 L1136.4,871.5 L1137.0,871.2 L1137.7,870.9 L1138.4,870.7 L1139.1,870.4 L1139.8,870.1 L1140.5,869.8 L1141.2,869.5 L1142.0,869.2 L1142.8,868.9 L1142.9,868.8 M1162.6,859.4 L1163.1,859.1 L1163.9,858.6 L1164.7,858.1 L1165.5,857.6 L1166.2,857.2 L1167.0,856.7 L1167.7,856.2 L1168.4,855.7 L1169.1,855.2 L1169.8,854.7 L1170.5,854.2 L1171.2,853.6 L1171.9,853.1 L1172.5,852.6 M1188.6,837.5 L1188.6,837.5 L1189.2,836.9 L1189.9,836.3 L1190.5,835.8 L1191.1,835.2 L1191.8,834.6 L1192.4,834.1 L1193.1,833.5 L1193.7,833.0 L1194.4,832.5 L1195.0,831.9 L1195.6,831.4 L1196.3,830.9 L1196.9,830.4 L1197.6,829.9 L1197.7,829.8 M1214.9,817.3 L1215.1,817.1 L1215.8,816.7 L1216.4,816.2 L1217.1,815.7 L1217.8,815.2 L1218.5,814.7 L1219.1,814.2 L1219.8,813.7 L1220.5,813.2 L1221.2,812.7 L1221.8,812.2 L1222.5,811.6 L1223.2,811.1 L1223.9,810.5 L1224.6,810.0 L1224.6,810.0 M1239.9,797.9 L1239.9,797.8 L1240.6,797.3 L1241.3,796.8 L1242.0,796.3 L1242.8,795.8 L1243.5,795.3 L1244.2,794.8 L1244.9,794.3 L1245.6,793.8 L1246.4,793.4 L1247.1,792.9 L1247.8,792.5 L1248.5,792.1 L1249.2,791.6 L1250.0,791.2 L1250.7,790.8 L1251.4,790.4 L1252.1,790.0 L1252.9,789.6 L1253.6,789.2 L1254.3,788.8 L1254.7,788.6 M1270.5,781.4 L1270.7,781.4 L1271.4,781.1 L1272.2,780.8 L1273.0,780.5 L1273.8,780.3 L1274.5,780.0 L1275.3,779.7 L1276.1,779.5 L1276.9,779.2 L1277.7,779.0 L1278.5,778.8 L1279.3,778.5 L1280.1,778.3 L1280.9,778.1 L1281.7,777.8 L1282.6,777.6 L1283.4,777.4 L1284.2,777.2 L1285.1,777.0 L1285.9,776.8 L1286.7,776.6 M1303.2,773.8 L1303.9,773.7 L1304.7,773.6 L1305.6,773.5 L1306.4,773.5 L1307.3,773.4 L1308.1,773.4 L1309.0,773.3 L1309.8,773.3 L1310.7,773.2 L1311.5,773.2 L1312.3,773.2 L1313.2,773.2 L1314.0,773.2 L1314.8,773.2 L1315.7,773.2 L1316.5,773.2 L1317.3,773.2 L1318.1,773.3 L1319.0,773.3 L1319.8,773.3 L1320.6,773.4 L1321.4,773.4 L1321.5,773.4 M1337.4,775.7 L1337.8,775.7 L1338.6,775.9 L1339.4,776.1 L1340.2,776.2 L1341.1,776.4 L1341.9,776.6 L1342.7,776.7 L1343.5,776.9 L1344.3,777.1 L1345.1,777.3 L1345.9,777.5 L1346.7,777.7 L1347.5,777.9 L1348.3,778.1 L1349.1,778.3 L1349.9,778.5 L1350.7,778.8 L1351.5,779.0 L1352.3,779.2 L1353.1,779.5 L1353.9,779.7 L1354.3,779.9 M1367.4,784.5 L1368.1,784.8 L1368.9,785.1 L1369.7,785.4 L1370.5,785.7 L1371.3,786.0 L1372.1,786.3 L1373.0,786.6 L1373.8,786.8 L1374.6,787.1 L1375.4,787.4 L1376.2,787.7 L1377.0,788.0 L1377.8,788.3 L1378.7,788.6 L1379.5,788.8 L1380.3,789.1 L1381.1,789.4 L1382.0,789.7 L1382.8,790.0 L1383.4,790.2 M1401.5,796.7 L1402.1,797.0 L1402.9,797.3 L1403.8,797.6 L1404.6,797.9 L1405.5,798.2 L1406.3,798.5 L1407.1,798.8 L1407.9,799.1 L1408.8,799.4 L1409.6,799.7 L1410.4,800.0 L1411.2,800.3 L1412.1,800.6 L1412.9,800.9 L1413.7,801.2 L1414.5,801.6 L1415.3,801.9 L1416.1,802.2 L1416.9,802.5 L1417.7,802.8 M1435.6,809.8 L1436.4,810.1 L1437.2,810.3 L1438.0,810.6 L1438.9,810.9 L1439.7,811.2 L1440.5,811.5 L1441.4,811.7 L1442.2,812.0 L1443.0,812.3 L1443.9,812.5 L1444.7,812.8 L1445.6,813.0 L1446.5,813.3 L1447.3,813.5 L1448.2,813.7 L1449.1,814.0 L1449.9,814.2 L1450.8,814.4 L1451.7,814.7 L1452.3,814.8 M1469.3,818.8 L1469.3,818.8 L1470.2,819.0 L1471.1,819.2 L1471.9,819.4 L1472.8,819.6 L1473.6,819.8 L1474.4,820.1 L1475.3,820.3 L1476.1,820.5 L1476.9,820.7 L1477.7,820.9 L1478.5,821.1 L1479.3,821.4 L1480.1,821.6 L1480.9,821.8 L1481.7,822.1 L1482.4,822.3 L1483.2,822.5 L1484.0,822.8 L1484.7,823.0 L1485.5,823.2 L1486.0,823.4 M1498.7,827.3 L1498.8,827.4 L1499.6,827.6 L1500.3,827.8 L1501.1,828.0 L1501.9,828.2 L1502.6,828.4 L1503.4,828.6 L1504.2,828.7 L1504.9,828.9 L1505.7,829.1 L1506.5,829.2 L1507.3,829.4 L1508.1,829.6 L1508.9,829.7 L1509.7,829.8 L1510.5,830.0 L1511.3,830.1 L1512.1,830.2 L1513.0,830.3 L1513.8,830.5 L1514.6,830.6 L1515.4,830.7 L1516.1,830.8 M1532.1,832.3 L1532.3,832.3 L1533.1,832.3 L1534.0,832.4 L1534.8,832.5 L1535.6,832.6 L1536.5,832.6 L1537.3,832.7 L1538.1,832.8 L1539.0,832.8 L1539.8,832.9 L1540.6,833.0 L1541.4,833.1 L1542.2,833.2 L1543.0,833.2 L1543.8,833.3 L1544.6,833.4 L1545.4,833.5 L1546.2,833.6 L1547.0,833.6 L1547.7,833.7 L1548.5,833.8 L1549.3,833.9 L1550.0,834.0 L1550.7,834.0 M1565.4,835.4 L1565.8,835.4 L1566.7,835.5 L1567.6,835.5 L1568.4,835.6 L1569.3,835.6 L1570.2,835.7 L1571.1,835.7 L1572.1,835.8 L1573.0,835.8 L1574.0,835.8 L1574.9,835.9 L1575.9,835.9 L1577.0,835.9 L1578.0,836.0 L1579.1,836.0 L1580.2,836.0 L1581.3,836.0 L1582.4,836.0 L1583.5,836.0 L1584.5,836.1 M1602.6,836.1 L1603.2,836.1 L1604.3,836.1 L1605.4,836.1 L1606.5,836.1 L1607.6,836.1 L1608.6,836.1 L1609.7,836.1 L1610.7,836.2 L1611.7,836.2 L1612.6,836.2 L1613.6,836.2 L1614.5,836.2 L1615.3,836.3 L1616.2,836.3 L1617.0,836.3 L1617.8,836.4 L1618.5,836.4 L1619.2,836.4 L1619.9,836.5 L1620.5,836.5 L1620.7,836.6 M1640.3,838.5 L1640.9,838.6 L1641.7,838.6 L1642.3,838.7 L1642.7,838.7 L1643.0,838.8 L1643.2,838.9 L1643.3,839.0 L1643.3,839.0 L1643.2,839.1 L1643.1,839.2 L1642.9,839.2 L1642.7,839.3 L1642.6,839.4 L1642.4,839.5 L1642.3,839.5 L1642.2,839.6 L1642.2,839.7 L1642.3,839.7 L1642.4,839.8 L1642.7,839.9 L1643.2,840.0 L1643.7,840.0" stroke="#ff0000"/>
<path d="M221.0,1077.0 L221.0,1077.0 L221.1,1077.2 L221.2,1077.3 L221.3,1077.5 L221.4,1077.7 L221.5,1077.9 L221.6,1078.1 L221.7,1078.3 L221.8,1078.6 L221.9,1078.8 L222.1,1079.0 L222.2,1079.3 L222.4,1079.5 L222.5,1079.8 L222.7,1080.1 L222.8,1080.3 L223.0,1080.6 L223.1,1080.9 L223.3,1081.2 L223.5,1081.5 L223.6,1081.9 L223.8,1082.2 L224.0,1082.5 L224.1,1082.9 L224.3,1083.2 L224.5,1083.6 L224.7,1084.0 L224.8,1084.3 L225.0,1084.7 L225.2,1085.1 L225.4,1085.5 L225.5,1085.9 L225.7,1086.3 L225.9,1086.8 L226.0,1087.2 L226.2,1087.7 L226.4,1088.1 L226.5,1088.6 L226.7,1089.0 L226.8,1089.5 L227.0,1090.0 L227.1,1090.5 L227.2,1090.7 M231.1,1108.6 L231.2,1109.0 L231.3,1109.8 L231.5,1110.5 L231.7,1111.2 L231.9,1111.9 L232.1,1112.6 L232.3,1113.3 L232.5,1114.1 L232.7,1114.8 L232.9,1115.5 L233.1,1116.2 L233.3,1116.9 L233.6,1117.6 L233.8,1118.3 L234.0,1119.1 L234.3,1119.8 L234.5,1120.5 L234.8,1121.3 L235.1,1122.0 L235.3,1122.8 L235.6,1123.5 L235.9,1124.3 L236.1,1125.0 L236.1,1125.1 M241.6,1138.9 L241.7,1139.0 L242.0,1139.7 L242.3,1140.5 L242.6,1141.3 L243.0,1142.1 L243.3,1142.9 L243.7,1143.6 L244.0,1144.4 L244.3,1145.2 L244.7,1145.9 L245.0,1146.7 L245.3,1147.5 L245.7,1148.2 L246.0,1149.0 L246.4,1149.8 L246.7,1150.6 L247.0,1151.4 L247.4,1152.1 L247.7,1152.9 L248.1,1153.7 L248.4,1154.5 M256.0,1170.3 L256.3,1170.9 L256.7,1171.6 L257.1,1172.4 L257.6,1173.1 L258.0,1173.8 L258.4,1174.5 L258.9,1175.2 L259.3,1175.9 L259.7,1176.6 L260.2,1177.3 L260.7,1178.0 L261.1,1178.7 L261.6,1179.4 L262.1,1180.0 L262.6,1180.7 L263.2,1181.4 L263.7,1182.1 L264.2,1182.8 L264.8,1183.5 L265.1,1183.9 M274.7,1194.7 L275.2,1195.1 L275.7,1195.7 L276.3,1196.2 L276.8,1196.7 L277.3,1197.2 L277.9,1197.7 L278.4,1198.2 L278.9,1198.7 L279.3,1199.1 L279.8,1199.5 L280.2,1199.9 L280.7,1200.3 L281.1,1200.7 L281.5,1201.0 L281.9,1201.3 L282.2,1201.6 L282.6,1201.9 L282.9,1202.2 L283.2,1202.4 L283.5,1202.7 L283.8,1202.9 L284.1,1203.1 L284.4,1203.3 L284.6,1203.5 L284.9,1203.7 L285.1,1203.8 L285.3,1204.0 L285.6,1204.1 L285.8,1204.2 L286.0,1204.3 L286.2,1204.4 L286.4,1204.5 L286.6,1204.5 L286.8,1204.6 L287.0,1204.6 L287.1,1204.7 L287.3,1204.7 L287.5,1204.7 L287.7,1204.7 L287.9,1204.7 L288.1,1204.6 L288.3,1204.6 L288.6,1204.6 L288.8,1204.5 L289.0,1204.5 L289.3,1204.4 L289.5,1204.3 L289.6,1204.3 M302.3,1197.4 L302.7,1197.1 L303.2,1196.7 L303.7,1196.3 L304.2,1195.9 L304.7,1195.5 L305.2,1195.1 L305.6,1194.6 L306.1,1194.2 L306.6,1193.7 L307.1,1193.3 L307.6,1192.8 L308.1,1192.3 L308.5,1191.8 L309.0,1191.3 L309.5,1190.8 L310.0,1190.3 L310.5,1189.7 L311.0,1189.2 L311.5,1188.6 L312.0,1188.0 L312.5,1187.4 L313.0,1186.7 L313.5,1186.1 L314.0,1185.4 L314.5,1184.8 L314.8,1184.4 M325.3,1169.3 L325.6,1168.9 L326.1,1168.1 L326.6,1167.3 L327.1,1166.6 L327.5,1165.8 L328.0,1165.0 L328.5,1164.3 L328.9,1163.5 L329.4,1162.7 L329.8,1162.0 L330.2,1161.3 L330.7,1160.5 L331.1,1159.8 L331.5,1159.0 L331.9,1158.2 L332.3,1157.5 L332.6,1156.7 L333.0,1155.9 L333.4,1155.2 L333.7,1154.4 M340.1,1139.9 L340.2,1139.6 L340.6,1138.8 L340.9,1138.1 L341.2,1137.3 L341.6,1136.6 L342.0,1135.8 L342.3,1135.1 L342.7,1134.4 L343.1,1133.6 L343.4,1132.9 L343.8,1132.2 L344.2,1131.5 L344.6,1130.8 L345.0,1130.1 L345.4,1129.4 L345.8,1128.7 L346.2,1127.9 L346.7,1127.2 L347.1,1126.5 L347.5,1125.8 L348.0,1125.0 L348.1,1124.8 M358.4,1109.4 L358.6,1109.2 L359.0,1108.7 L359.4,1108.2 L359.7,1107.7 L360.1,1107.3 L360.5,1106.8 L360.8,1106.4 L361.2,1106.0 L361.5,1105.6 L361.9,1105.3 L362.2,1104.9 L362.5,1104.6 L362.8,1104.2 L363.1,1103.9 L363.4,1103.6 L363.7,1103.3 L364.0,1103.0 L364.3,1102.8 L364.5,1102.5 L364.8,1102.3 L365.1,1102.1 L365.3,1101.8 L365.6,1101.6 L365.8,1101.4 L366.1,1101.3 L366.3,1101.1 L366.6,1101.0 L366.8,1100.8 L367.0,1100.7 L367.3,1100.6 L367.4,1100.5 M380.8,1106.8 L381.1,1107.1 L381.4,1107.5 L381.8,1107.9 L382.1,1108.4 L382.5,1108.8 L382.8,1109.3 L383.2,1109.8 L383.5,1110.3 L383.9,1110.8 L384.2,1111.3 L384.5,1111.8 L384.8,1112.3 L385.2,1112.9 L385.5,1113.4 L385.8,1114.0 L386.1,1114.6 L386.4,1115.2 L386.7,1115.8 L387.0,1116.5 L387.3,1117.2 L387.6,1117.9 L387.9,1118.6 L388.2,1119.3 L388.5,1120.0 L388.8,1120.8 L388.8,1120.8 M394.4,1138.4 L394.5,1138.9 L394.8,1139.8 L395.1,1140.7 L395.3,1141.5 L395.6,1142.4 L395.8,1143.3 L396.1,1144.2 L396.3,1145.0 L396.6,1145.9 L396.8,1146.7 L397.0,1147.5 L397.3,1148.4 L397.5,1149.2 L397.8,1150.1 L398.0,1150.9 L398.2,1151.7 L398.4,1152.6 L398.7,1153.4 L398.9,1154.3 L399.1,1155.0 M403.3,1172.2 L403.3,1172.3 L403.5,1173.1 L403.7,1174.0 L403.9,1174.8 L404.1,1175.7 L404.3,1176.5 L404.5,1177.4 L404.7,1178.2 L404.9,1179.0 L405.1,1179.9 L405.3,1180.7 L405.5,1181.5 L405.7,1182.3 L405.9,1183.2 L406.1,1184.0 L406.3,1184.8 L406.5,1185.6 L406.7,1186.4 L406.9,1187.2 L407.1,1188.0 L407.3,1188.8 L407.4,1189.2 M410.6,1202.3 L410.7,1202.4 L410.8,1203.2 L411.0,1204.0 L411.2,1204.8 L411.4,1205.6 L411.6,1206.4 L411.8,1207.2 L412.0,1208.0 L412.1,1208.8 L412.3,1209.6 L412.5,1210.4 L412.7,1211.3 L412.8,1212.1 L413.0,1212.9 L413.2,1213.7 L413.3,1214.6 L413.5,1215.4 L413.7,1216.2 L413.8,1217.0 L414.0,1217.9 L414.1,1218.7 L414.3,1219.5 L414.4,1220.3 L414.6,1221.2 L414.7,1221.9 M417.8,1240.4 L417.8,1240.6 L418.0,1241.5 L418.1,1242.3 L418.3,1243.2 L418.4,1244.1 L418.6,1245.0 L418.7,1245.9 L418.9,1246.8 L419.1,1247.7 L419.2,1248.6 L419.4,1249.6 L419.5,1250.5 L419.7,1251.4 L419.9,1252.4 L420.0,1253.4 L420.2,1254.3 L420.4,1255.3 L420.6,1256.3 L420.7,1256.9 M423.6,1273.3 L423.7,1274.2 L423.9,1275.1 L424.0,1276.1 L424.2,1277.0 L424.4,1278.0 L424.5,1278.9 L424.7,1279.8 L424.8,1280.7 L425.0,1281.6 L425.1,1282.5 L425.2,1283.4 L425.4,1284.3 L425.5,1285.1 L425.6,1285.9 L425.7,1286.7 L425.9,1287.6 L426.0,1288.3 L426.1,1289.1 L426.2,1289.9 L426.2,1290.0 M427.7,1303.4 L427.8,1303.8 L427.8,1304.5 L427.9,1305.2 L428.0,1305.9 L428.1,1306.6 L428.2,1307.3 L428.3,1308.0 L428.4,1308.7 L428.5,1309.4 L428.6,1310.1 L428.7,1310.9 L428.8,1311.6 L428.9,1312.4 L429.1,1313.1 L429.2,1313.9 L429.3,1314.7 L429.5,1315.5 L429.6,1316.3 L429.8,1317.1 L430.0,1317.9 L430.1,1318.7 L430.3,1319.5 L430.5,1320.4 L430.6,1321.2 L430.8,1322.0 L431.0,1322.9 L431.2,1323.7 L431.3,1324.2 M434.3,1337.6 L434.5,1338.4 L434.7,1339.3 L434.9,1340.2 L435.1,1341.0 L435.3,1341.9 L435.5,1342.8 L435.7,1343.6 L435.8,1344.5 L436.0,1345.3 L436.2,1346.2 L436.3,1347.0 L436.5,1347.9 L436.7,1348.7 L436.8,1349.6 L437.0,1350.4 L437.1,1351.3 L437.3,1352.2 L437.4,1353.0 L437.6,1353.9 L437.7,1354.7 L437.8,1355.6 L438.0,1356.4 L438.1,1357.3 L438.2,1358.1 L438.3,1358.3 M440.2,1371.4 L440.3,1371.8 L440.4,1372.6 L440.6,1373.4 L440.7,1374.3 L440.8,1375.1 L440.9,1376.0 L441.1,1376.8 L441.2,1377.6 L441.3,1378.5 L441.5,1379.3 L441.6,1380.1 L441.8,1381.0 L441.9,1381.8 L442.0,1382.6 L442.2,1383.5 L442.3,1384.3 L442.5,1385.1 L442.6,1385.9 L442.8,1386.7 L442.9,1387.5 L443.0,1388.4 L443.2,1389.2 L443.3,1390.0 L443.5,1390.8 L443.6,1391.6 L443.7,1392.2 M446.1,1405.0 L446.1,1405.2 L446.3,1406.0 L446.5,1406.8 L446.6,1407.6 L446.8,1408.4 L446.9,1409.2 L447.1,1410.0 L447.2,1410.8 L447.4,1411.7 L447.6,1412.5 L447.7,1413.3 L447.9,1414.1 L448.1,1414.9 L448.2,1415.7 L448.4,1416.5 L448.6,1417.4 L448.7,1418.2 L448.9,1419.0 L449.1,1419.8 L449.3,1420.6 L449.4,1421.5 L449.5,1421.6 M453.3,1438.6 L453.3,1438.8 L453.5,1439.6 L453.7,1440.4 L453.9,1441.3 L454.1,1442.1 L454.3,1442.9 L454.5,1443.8 L454.6,1444.6 L454.8,1445.4 L455.0,1446.3 L455.2,1447.1 L455.4,1447.9 L455.6,1448.8 L455.8,1449.6 L455.9,1450.5 L456.1,1451.3 L456.3,1452.2 L456.5,1453.0 L456.7,1453.9 L456.8,1454.8 L457.0,1455.6 L457.0,1455.7 M460.7,1472.8 L460.7,1472.8 L460.9,1473.7 L461.1,1474.5 L461.3,1475.3 L461.5,1476.2 L461.7,1477.0 L461.9,1477.8 L462.1,1478.7 L462.4,1479.5 L462.6,1480.3 L462.8,1481.1 L463.0,1481.9 L463.3,1482.7 L463.5,1483.6 L463.7,1484.4 L464.0,1485.2 L464.2,1486.1 L464.4,1486.9 L464.7,1487.8 L464.9,1488.7 L465.2,1489.4 M470.0,1504.2 L470.0,1504.3 L470.2,1505.0 L470.5,1505.7 L470.8,1506.4 L471.1,1507.0 L471.4,1507.7 L471.6,1508.3 L471.9,1508.9 L472.2,1509.5 L472.5,1510.1 L472.7,1510.6 L473.0,1511.1 L473.3,1511.6 L473.6,1512.1 L473.9,1512.5 L474.1,1512.9 L474.4,1513.3 L474.7,1513.7 L475.0,1514.1 L475.3,1514.4 L475.6,1514.8 L475.8,1515.1 L476.1,1515.4 L476.4,1515.6 L476.7,1515.9 L477.0,1516.2 L477.3,1516.4 L477.6,1516.6 L477.9,1516.8 L478.2,1517.0 L478.5,1517.2 L478.8,1517.3 L479.0,1517.5 L479.3,1517.7 L479.6,1517.8 L479.8,1517.9 M489.6,1519.3 L489.8,1519.2 L490.1,1519.2 L490.4,1519.2 L490.7,1519.1 L491.0,1519.0 L491.3,1518.9 L491.6,1518.8 L491.9,1518.7 L492.2,1518.6 L492.5,1518.5 L492.8,1518.3 L493.1,1518.2 L493.4,1518.0 L493.7,1517.8 L494.0,1517.6 L494.3,1517.3 L494.6,1517.1 L494.9,1516.8 L495.2,1516.5 L495.6,1516.2 L495.9,1515.8 L496.2,1515.4 L496.5,1515.1 L496.8,1514.6 L497.1,1514.2 L497.4,1513.7 L497.7,1513.2 L498.0,1512.7 L498.4,1512.1 L498.7,1511.6 L499.0,1511.0 L499.3,1510.3 L499.7,1509.7 L500.0,1509.0 L500.3,1508.3 L500.6,1507.6 L500.9,1506.9 M506.4,1492.8 L506.5,1492.4 L506.9,1491.5 L507.2,1490.6 L507.5,1489.7 L507.8,1488.8 L508.1,1487.9 L508.4,1487.0 L508.7,1486.2 L509.0,1485.3 L509.2,1484.5 L509.5,1483.6 L509.8,1482.8 L510.1,1482.0 L510.3,1481.2 L510.6,1480.3 L510.9,1479.5 L511.1,1478.7 L511.4,1477.8 L511.7,1477.0 L511.9,1476.1 L512.2,1475.3 L512.4,1474.4 L512.6,1473.6 L512.9,1472.7 M516.4,1459.3 L516.5,1458.9 L516.8,1458.0 L517.0,1457.2 L517.2,1456.3 L517.4,1455.5 L517.6,1454.6 L517.8,1453.8 L518.0,1452.9 L518.3,1452.1 L518.5,1451.3 L518.7,1450.4 L518.9,1449.6 L519.1,1448.8 L519.3,1448.0 L519.5,1447.2 L519.7,1446.4 L519.9,1445.6 L520.2,1444.8 L520.4,1444.0 L520.6,1443.2 L520.8,1442.4 L521.0,1441.6 L521.2,1440.8 L521.4,1440.1 L521.6,1439.3 L521.8,1438.5 L521.8,1438.3 M524.9,1426.1 L525.0,1425.5 L525.2,1424.7 L525.4,1423.9 L525.6,1423.1 L525.8,1422.3 L525.9,1421.5 L526.1,1420.7 L526.3,1419.9 L526.5,1419.1 L526.6,1418.3 L526.8,1417.5 L527.0,1416.7 L527.1,1415.9 L527.3,1415.0 L527.5,1414.2 L527.6,1413.4 L527.8,1412.5 L527.9,1411.7 L528.1,1410.9 L528.2,1410.0 L528.4,1409.2 L528.5,1408.8 M531.2,1392.2 L531.3,1392.1 L531.4,1391.2 L531.5,1390.3 L531.7,1389.5 L531.8,1388.6 L532.0,1387.8 L532.1,1386.9 L532.3,1386.1 L532.4,1385.2 L532.6,1384.3 L532.7,1383.5 L532.8,1382.7 L533.0,1381.8 L533.1,1381.0 L533.3,1380.1 L533.4,1379.3 L533.6,1378.4 L533.7,1377.6 L533.9,1376.7 L534.0,1375.9 L534.2,1375.0 L534.2,1374.8 M537.1,1358.3 L537.1,1358.1 L537.3,1357.2 L537.4,1356.4 L537.6,1355.5 L537.8,1354.7 L537.9,1353.8 L538.1,1353.0 L538.2,1352.1 L538.4,1351.3 L538.5,1350.4 L538.7,1349.6 L538.9,1348.8 L539.0,1347.9 L539.2,1347.1 L539.4,1346.2 L539.5,1345.3 L539.7,1344.5 L539.9,1343.6 L540.0,1342.8 L540.2,1341.9 L540.4,1341.1 L540.4,1341.0 M543.8,1324.3 L543.9,1324.0 L544.1,1323.2 L544.2,1322.4 L544.4,1321.5 L544.6,1320.7 L544.7,1319.8 L544.9,1319.0 L545.0,1318.1 L545.2,1317.3 L545.3,1316.4 L545.5,1315.6 L545.7,1314.8 L545.8,1313.9 L545.9,1313.1 L546.1,1312.3 L546.2,1311.4 L546.4,1310.6 L546.5,1309.8 L546.6,1308.9 L546.8,1308.1 L546.9,1307.3 L547.0,1306.9 M549.4,1290.9 L549.5,1290.7 L549.6,1289.9 L549.7,1289.1 L549.9,1288.2 L550.0,1287.4 L550.1,1286.6 L550.3,1285.7 L550.4,1284.9 L550.5,1284.1 L550.7,1283.2 L550.8,1282.4 L550.9,1281.6 L551.1,1280.7 L551.2,1279.9 L551.4,1279.0 L551.5,1278.2 L551.6,1277.3 L551.8,1276.5 L551.9,1275.6 L552.1,1274.8 L552.2,1274.0 L552.2,1273.9 M555.1,1256.7 L555.3,1256.1 L555.4,1255.2 L555.6,1254.4 L555.7,1253.5 L555.9,1252.7 L556.1,1251.8 L556.2,1250.9 L556.4,1250.1 L556.5,1249.2 L556.7,1248.4 L556.9,1247.6 L557.0,1246.7 L557.2,1245.9 L557.4,1245.0 L557.6,1244.2 L557.7,1243.3 L557.9,1242.5 L558.1,1241.6 L558.3,1240.8 L558.4,1240.1 M562.3,1222.9 L562.4,1222.1 L562.6,1221.3 L562.8,1220.4 L562.9,1219.6 L563.1,1218.7 L563.3,1217.9 L563.4,1217.0 L563.6,1216.2 L563.8,1215.3 L563.9,1214.5 L564.0,1213.7 L564.2,1212.8 L564.3,1212.0 L564.5,1211.1 L564.6,1210.3 L564.7,1209.4 L564.8,1208.6 L564.9,1207.7 L565.0,1206.9 L565.1,1206.1 M567.2,1188.9 L567.3,1188.1 L567.4,1187.3 L567.5,1186.4 L567.7,1185.6 L567.8,1184.7 L567.9,1183.9 L568.1,1183.0 L568.2,1182.2 L568.3,1181.3 L568.5,1180.5 L568.7,1179.7 L568.8,1178.8 L569.0,1178.0 L569.2,1177.1 L569.3,1176.3 L569.5,1175.4 L569.7,1174.6 L569.9,1173.7 L570.1,1172.9 L570.2,1172.2 M574.5,1154.8 L574.6,1154.2 L574.8,1153.4 L575.0,1152.5 L575.2,1151.7 L575.4,1150.8 L575.6,1150.0 L575.8,1149.1 L576.0,1148.3 L576.2,1147.4 L576.4,1146.6 L576.6,1145.8 L576.8,1144.9 L577.0,1144.1 L577.2,1143.2 L577.3,1142.4 L577.5,1141.5 L577.7,1140.7 L577.9,1139.8 L578.1,1139.0 L578.2,1138.4 M582.0,1120.9 L582.1,1120.3 L582.3,1119.5 L582.5,1118.6 L582.7,1117.8 L582.9,1116.9 L583.1,1116.1 L583.2,1115.2 L583.4,1114.4 L583.6,1113.5 L583.8,1112.7 L584.0,1111.8 L584.2,1111.0 L584.4,1110.1 L584.5,1109.3 L584.7,1108.4 L584.9,1107.6 L585.1,1106.7 L585.3,1105.8 L585.5,1105.0 L585.6,1104.4 M589.4,1086.8 L589.6,1086.0 L589.8,1085.2 L590.0,1084.4 L590.2,1083.6 L590.4,1082.7 L590.6,1081.9 L590.9,1081.1 L591.1,1080.3 L591.3,1079.5 L591.5,1078.7 L591.7,1077.9 L591.9,1077.1 L592.2,1076.4 L592.4,1075.6 L592.6,1074.8 L592.9,1074.1 L593.1,1073.3 L593.3,1072.6 L593.6,1071.9 L593.8,1071.1 L594.0,1070.7 M598.7,1057.2 L598.9,1056.9 L599.1,1056.1 L599.4,1055.4 L599.6,1054.7 L599.9,1053.9 L600.1,1053.2 L600.3,1052.4 L600.6,1051.6 L600.8,1050.9 L601.1,1050.1 L601.3,1049.3 L601.5,1048.5 L601.8,1047.7 L602.0,1046.9 L602.2,1046.1 L602.4,1045.3 L602.6,1044.4 L602.8,1043.6 L603.1,1042.8 L603.3,1041.9 L603.4,1041.2 M607.8,1023.3 L607.9,1022.9 L608.1,1022.0 L608.4,1021.2 L608.6,1020.3 L608.9,1019.5 L609.2,1018.7 L609.4,1017.8 L609.7,1017.0 L610.0,1016.2 L610.3,1015.4 L610.6,1014.6 L610.9,1013.8 L611.2,1013.0 L611.6,1012.2 L611.9,1011.4 L612.2,1010.6 L612.6,1009.8 L612.9,1009.0 L613.3,1008.3 L613.5,1007.8 M621.2,992.8 L621.5,992.3 L621.9,991.5 L622.3,990.8 L622.7,990.0 L623.1,989.3 L623.5,988.5 L623.9,987.8 L624.3,987.0 L624.7,986.3 L625.1,985.5 L625.5,984.8 L625.9,984.0 L626.3,983.3 L626.6,982.5 L627.0,981.8 L627.4,981.0 L627.7,980.3 L628.1,979.5 L628.5,978.8 L628.8,978.2 M636.5,962.5 L636.6,962.5 L637.0,961.7 L637.4,961.0 L637.8,960.3 L638.2,959.6 L638.6,958.9 L639.1,958.2 L639.5,957.5 L640.0,956.8 L640.4,956.1 L640.9,955.4 L641.4,954.7 L641.9,954.0 L642.3,953.3 L642.8,952.6 L643.3,952.0 L643.8,951.3 L644.3,950.6 L644.8,949.9 L645.3,949.2 L645.8,948.6 M655.8,936.7 L655.9,936.7 L656.4,936.1 L657.0,935.5 L657.6,934.9 L658.2,934.3 L658.9,933.7 L659.5,933.1 L660.1,932.5 L660.7,931.9 L661.3,931.3 L661.9,930.7 L662.6,930.2 L663.2,929.6 L663.8,929.0 L664.5,928.5 L665.1,928.0 L665.8,927.4 L666.4,926.9 L667.1,926.4 L667.8,925.9 L668.4,925.3 L669.1,924.8 L669.8,924.3 L669.9,924.3 M685.3,914.4 L685.5,914.3 L686.3,913.8 L687.0,913.4 L687.8,913.0 L688.5,912.5 L689.3,912.1 L690.0,911.7 L690.8,911.2 L691.5,910.8 L692.2,910.4 L693.0,909.9 L693.8,909.5 L694.5,909.0 L695.3,908.6 L696.0,908.2 L696.2,908.0 M715.2,897.9 L715.8,897.7 L716.6,897.3 L717.4,897.0 L718.2,896.6 L719.0,896.3 L719.8,896.0 L720.6,895.7 L721.4,895.4 L722.2,895.1 L723.0,894.8 L723.8,894.5 L724.6,894.3 L725.4,894.0 L726.2,893.8 L727.0,893.5 L727.9,893.3 L728.7,893.1 L729.5,892.8 L730.3,892.6 L731.1,892.4 M748.4,889.5 L748.5,889.5 L749.3,889.4 L750.1,889.4 L750.9,889.3 L751.7,889.2 L752.6,889.2 L753.4,889.1 L754.2,889.1 L755.0,889.0 L755.8,889.0 L756.6,889.0 L757.4,888.9 L758.2,888.9 L759.0,888.9 L759.9,888.9 L760.7,888.8 L761.5,888.8 L762.3,888.8 L763.1,888.8 L764.0,888.8 L764.8,888.8 L765.6,888.8 L766.4,888.8 L766.4,888.8 M778.7,889.9 L779.3,890.0 L780.1,890.1 L780.9,890.2 L781.6,890.4 L782.4,890.5 L783.2,890.7 L784.0,890.9 L784.7,891.1 L785.5,891.3 L786.2,891.5 L787.0,891.7 L787.7,891.9 L788.4,892.1 L789.2,892.4 L789.9,892.6 L790.6,892.9 L791.3,893.2 L792.0,893.5 L792.8,893.8 L793.5,894.1 L794.2,894.5 L794.8,894.8 M810.9,904.8 L811.5,905.2 L812.1,905.6 L812.8,906.1 L813.4,906.5 L814.1,907.0 L814.7,907.4 L815.3,907.8 L816.0,908.3 L816.6,908.7 L817.2,909.2 L817.8,909.6 L818.4,910.1 L819.0,910.5 L819.6,911.0 L820.2,911.5 L820.8,911.9 L820.9,912.0 M832.7,921.9 L833.1,922.2 L833.7,922.7 L834.3,923.2 L834.9,923.7 L835.6,924.2 L836.2,924.7 L836.8,925.2 L837.5,925.7 L838.1,926.2 L838.8,926.7 L839.5,927.2 L840.1,927.7 L840.8,928.2 L841.5,928.7 L842.2,929.3 L842.9,929.8 L843.5,930.3 L844.2,930.9 L844.9,931.4 L845.6,932.0 L846.3,932.5 M861.9,943.7 L862.5,944.1 L863.2,944.5 L864.0,945.0 L864.8,945.4 L865.5,945.8 L866.3,946.2 L867.0,946.6 L867.8,947.0 L868.6,947.4 L869.3,947.8 L870.1,948.1 L870.9,948.5 L871.7,948.9 L872.5,949.3 L873.3,949.6 L873.9,949.9 M890.4,955.9 L891.1,956.1 L891.9,956.2 L892.7,956.3 L893.5,956.5 L894.3,956.5 L895.1,956.6 L895.9,956.7 L896.7,956.7 L897.4,956.7 L898.2,956.7 L898.9,956.7 L899.7,956.6 L900.4,956.5 L901.2,956.4 L901.9,956.3 L902.7,956.1 L903.4,956.0 L904.2,955.8 L904.9,955.5 L905.7,955.3 L906.4,955.1 L907.1,954.8 L907.9,954.5 L908.6,954.2 L908.7,954.2 M921.6,946.2 L921.9,945.9 L922.6,945.4 L923.2,944.9 L923.9,944.4 L924.5,943.9 L925.1,943.3 L925.8,942.8 L926.4,942.3 L927.0,941.7 L927.6,941.2 L928.2,940.7 L928.8,940.1 L929.4,939.6 L930.0,939.0 L930.5,938.4 L931.1,937.8 L931.7,937.2 L932.0,936.8 M942.9,922.0 L943.3,921.3 L943.8,920.6 L944.3,919.9 L944.7,919.2 L945.2,918.4 L945.6,917.7 L946.1,917.0 L946.6,916.3 L947.0,915.5 L947.5,914.8 L947.9,914.1 L948.3,913.4 L948.8,912.7 L949.2,911.9 L949.6,911.2 L950.1,910.5 L950.5,909.8 L950.9,909.0 L951.3,908.3 L951.7,907.6 L951.8,907.5 M959.5,892.2 L959.7,891.7 L960.1,891.0 L960.4,890.2 L960.8,889.5 L961.2,888.7 L961.5,888.0 L961.9,887.2 L962.3,886.4 L962.7,885.7 L963.0,884.9 L963.4,884.2 L963.8,883.5 L964.1,882.7 L964.5,882.0 L964.9,881.2 L965.3,880.5 L965.6,879.8 L966.0,879.0 L966.4,878.3 L966.7,877.6 L967.1,876.8 L967.4,876.2 M974.1,862.5 L974.3,862.1 L974.6,861.4 L975.0,860.6 L975.3,859.8 L975.7,859.1 L976.0,858.3 L976.4,857.5 L976.7,856.7 L977.1,855.9 L977.4,855.1 L977.8,854.3 L978.1,853.5 L978.5,852.7 L978.8,851.8 L979.2,851.0 L979.5,850.2 L979.9,849.3 L980.2,848.5 L980.5,847.6 L980.9,846.7 L981.1,846.0 M987.9,827.8 L988.2,827.2 L988.5,826.3 L988.9,825.4 L989.2,824.6 L989.6,823.7 L989.9,822.8 L990.3,822.0 L990.7,821.2 L991.0,820.3 L991.4,819.5 L991.8,818.7 L992.2,817.9 L992.5,817.1 L992.9,816.2 L993.3,815.4 L993.7,814.6 L994.1,813.8 L994.5,813.0 L995.0,812.2 L995.4,811.5 M1003.3,797.0 L1003.4,796.8 L1003.8,796.1 L1004.2,795.3 L1004.6,794.6 L1005.1,793.8 L1005.5,793.1 L1005.9,792.3 L1006.3,791.6 L1006.6,790.8 L1007.0,790.1 L1007.4,789.3 L1007.8,788.6 L1008.2,787.9 L1008.5,787.1 L1008.9,786.4 L1009.3,785.6 L1009.6,784.9 L1010.0,784.1 L1010.3,783.4 L1010.5,783.0 M1018.0,766.6 L1018.3,766.1 L1018.6,765.4 L1019.0,764.7 L1019.3,764.0 L1019.7,763.3 L1020.0,762.5 L1020.4,761.8 L1020.8,761.1 L1021.1,760.4 L1021.5,759.7 L1021.9,759.0 L1022.3,758.3 L1022.6,757.6 L1023.0,756.9 L1023.4,756.2 L1023.8,755.5 L1024.2,754.7 L1024.6,754.0 L1024.9,753.3 L1025.3,752.6 L1025.7,751.9 L1026.0,751.5 M1034.2,737.6 L1034.4,737.3 L1034.8,736.6 L1035.3,735.9 L1035.7,735.2 L1036.2,734.5 L1036.6,733.8 L1037.1,733.1 L1037.5,732.4 L1038.0,731.7 L1038.5,731.0 L1038.9,730.3 L1039.4,729.6 L1039.9,728.8 L1040.4,728.1 L1040.9,727.4 L1041.4,726.6 L1041.9,725.9 L1042.4,725.2 L1042.9,724.4 L1043.5,723.7 L1043.9,723.1 M1052.9,710.7 L1053.1,710.5 L1053.6,709.8 L1054.1,709.1 L1054.6,708.5 L1055.1,707.8 L1055.6,707.2 L1056.2,706.6 L1056.7,706.0 L1057.1,705.4 L1057.6,704.8 L1058.1,704.3 L1058.6,703.7 L1059.1,703.2 L1059.5,702.6 L1060.0,702.1 L1060.4,701.6 L1060.8,701.1 L1061.2,700.6 L1061.6,700.1 L1062.0,699.6 L1062.4,699.2 L1062.8,698.7 L1063.2,698.3 L1063.6,697.8 L1063.9,697.4 L1064.3,697.0 L1064.4,696.8 M1068.8,692.5 L1068.9,692.4 L1069.3,692.1 L1069.7,691.8 L1070.2,691.4 L1070.6,691.1 L1071.1,690.8 L1071.6,690.5 L1072.1,690.2 L1072.6,689.9 L1073.1,689.6 L1073.7,689.4 L1074.2,689.1 L1074.8,688.8 L1075.4,688.6 L1076.0,688.3 L1076.6,688.0 L1077.3,687.8 L1078.0,687.5 L1078.7,687.3 L1079.4,687.1 L1080.1,686.8 L1080.9,686.6 L1081.7,686.3 L1082.5,686.1 L1083.3,685.9 L1084.0,685.7 M1101.4,683.0 L1101.5,683.0 L1102.4,683.0 L1103.2,683.0 L1104.0,683.0 L1104.9,683.0 L1105.7,683.1 L1106.5,683.1 L1107.3,683.2 L1108.0,683.3 L1108.8,683.4 L1109.5,683.5 L1110.3,683.7 L1111.0,683.9 L1111.7,684.0 L1112.5,684.3 L1113.2,684.5 L1113.9,684.7 L1114.6,685.0 L1115.3,685.3 L1116.0,685.5 L1116.7,685.9 L1117.4,686.2 L1118.1,686.5 L1118.6,686.8 M1129.4,693.5 L1129.4,693.5 L1130.0,693.9 L1130.7,694.4 L1131.3,694.8 L1132.0,695.3 L1132.6,695.7 L1133.2,696.2 L1133.9,696.6 L1134.5,697.0 L1135.2,697.5 L1135.8,697.9 L1136.4,698.3 L1137.1,698.8 L1137.7,699.2 L1138.3,699.6 L1139.0,700.0 L1139.6,700.5 L1140.2,700.9 L1140.8,701.4 L1141.4,701.8 L1142.0,702.3 L1142.7,702.7 L1143.3,703.2 L1143.4,703.3 M1155.8,713.5 L1156.4,714.0 L1157.0,714.5 L1157.6,715.0 L1158.2,715.6 L1158.8,716.1 L1159.4,716.7 L1160.0,717.2 L1160.6,717.7 L1161.2,718.3 L1161.8,718.9 L1162.4,719.4 L1163.0,720.0 L1163.6,720.6 L1164.2,721.2 L1164.8,721.8 L1165.2,722.2 M1178.3,735.6 L1178.7,736.1 L1179.3,736.7 L1179.9,737.3 L1180.5,737.9 L1181.1,738.5 L1181.7,739.1 L1182.3,739.7 L1182.9,740.3 L1183.5,740.8 L1184.1,741.4 L1184.7,742.0 L1185.3,742.5 L1185.9,743.1 L1186.5,743.6 L1187.1,744.2 L1187.7,744.7 L1188.3,745.3 L1188.9,745.8 L1189.5,746.4 L1190.1,746.9 L1190.6,747.4 L1191.2,747.9 L1191.4,748.1 M1203.6,758.7 L1203.8,758.9 L1204.4,759.4 L1205.0,759.9 L1205.7,760.5 L1206.3,761.0 L1206.9,761.5 L1207.6,762.1 L1208.2,762.6 L1208.8,763.1 L1209.5,763.7 L1210.1,764.2 L1210.8,764.8 L1211.4,765.3 L1212.1,765.9 L1212.8,766.5 L1213.4,767.0 L1214.1,767.6 L1214.1,767.6 M1229.9,780.6 L1230.5,781.1 L1231.2,781.6 L1231.9,782.2 L1232.5,782.7 L1233.2,783.2 L1233.9,783.8 L1234.6,784.3 L1235.3,784.8 L1236.0,785.3 L1236.7,785.8 L1237.4,786.4 L1238.0,786.9 L1238.7,787.4 L1239.4,787.9 L1240.1,788.4 L1240.8,788.9 M1256.0,799.8 L1256.1,799.8 L1256.8,800.2 L1257.5,800.7 L1258.2,801.1 L1258.9,801.6 L1259.6,802.0 L1260.3,802.4 L1261.0,802.9 L1261.8,803.3 L1262.5,803.7 L1263.2,804.1 L1263.9,804.5 L1264.7,804.9 L1265.4,805.3 L1266.1,805.7 L1266.8,806.0 L1267.6,806.4 L1268.3,806.8 L1269.0,807.1 L1269.8,807.5 L1270.5,807.8 L1270.7,807.9 M1285.5,814.0 L1285.5,814.1 L1286.3,814.4 L1287.1,814.6 L1287.8,814.9 L1288.6,815.2 L1289.3,815.5 L1290.1,815.8 L1290.9,816.1 L1291.7,816.4 L1292.4,816.7 L1293.2,817.0 L1294.0,817.3 L1294.7,817.6 L1295.5,817.9 L1296.3,818.2 L1297.1,818.5 L1297.9,818.8 L1298.6,819.1 L1299.4,819.4 L1300.2,819.7 L1300.9,820.0 M1319.6,826.5 L1320.2,826.7 L1321.0,826.9 L1321.8,827.1 L1322.6,827.4 L1323.4,827.6 L1324.2,827.8 L1325.0,828.0 L1325.8,828.2 L1326.6,828.4 L1327.4,828.6 L1328.2,828.8 L1329.0,829.0 L1329.8,829.2 L1330.6,829.3 L1331.4,829.5 L1332.1,829.6 M1348.5,832.4 L1349.3,832.5 L1350.1,832.6 L1350.9,832.7 L1351.8,832.8 L1352.6,832.9 L1353.4,833.0 L1354.2,833.1 L1355.0,833.2 L1355.9,833.3 L1356.7,833.4 L1357.5,833.5 L1358.3,833.6 L1359.1,833.7 L1359.9,833.8 L1360.8,833.9 L1361.6,834.0 L1362.4,834.0 L1363.2,834.1 L1364.0,834.2 L1364.7,834.3 L1365.5,834.4 L1366.3,834.4 L1366.5,834.5 M1381.8,835.5 L1382.6,835.6 L1383.5,835.6 L1384.4,835.7 L1385.3,835.7 L1386.2,835.7 L1387.1,835.8 L1388.0,835.8 L1388.9,835.8 L1389.8,835.9 L1390.8,835.9 L1391.8,835.9 L1392.8,836.0 L1393.8,836.0 L1394.9,836.0 L1396.0,836.0 L1397.2,836.0 L1398.3,836.1 L1399.5,836.1 L1399.8,836.1 M1419.8,836.1 L1420.5,836.1 L1421.7,836.1 L1422.8,836.1 L1423.9,836.0 L1425.0,836.0 L1426.0,836.0 L1427.0,836.0 L1428.0,836.0 L1428.9,836.0 L1429.8,836.0 L1430.6,836.0 L1431.4,836.0 L1432.1,836.0 L1432.8,836.0 L1433.4,836.0 L1434.0,836.0 L1434.0,836.0" stroke="#0000ff"/>
</g>
<rect x="223" y="837.5" width="1942.1" height="7.3" fill="#000"/>
<rect x="1177" y="234.9" width="768.9" height="289.1" fill="#fff" stroke="#000" stroke-width="3.7"/>
<rect x="1186.5" y="282" width="169" height="7.5" fill="#ff0000"/>
<rect x="1186.5" y="375.6" width="15.5" height="7.6" fill="#ff0000"/>
<rect x="1186.5" y="469.3" width="15.5" height="7.6" fill="#0000ff"/>
<rect x="1220" y="375.6" width="15.3" height="7.6" fill="#ff0000"/>
<rect x="1220" y="469.3" width="15.3" height="7.6" fill="#0000ff"/>
<rect x="1254" y="375.6" width="15.0" height="7.6" fill="#ff0000"/>
<rect x="1254" y="469.3" width="15.0" height="7.6" fill="#0000ff"/>
<rect x="1287.7" y="375.6" width="15.2" height="7.6" fill="#ff0000"/>
<rect x="1287.7" y="469.3" width="15.2" height="7.6" fill="#0000ff"/>
<rect x="1321.4" y="375.6" width="18.8" height="7.6" fill="#ff0000"/>
<rect x="1321.4" y="469.3" width="18.8" height="7.6" fill="#0000ff"/>
<text x="1368" y="311.8" font-family="Liberation Serif, Times New Roman, serif" font-size="74">Exp. ECD of <tspan font-weight="bold">23</tspan></text>
<text x="1368" y="401.9" font-family="Liberation Serif, Times New Roman, serif" font-size="74">Cal. ECD of 2<tspan font-style="italic">S</tspan><tspan font-weight="bold">-23</tspan></text>
<text x="1368" y="495.7" font-family="Liberation Serif, Times New Roman, serif" font-size="74">Cal. ECD of 2<tspan font-style="italic">R</tspan><tspan font-weight="bold">-23</tspan></text>
</svg>
</body></html>
